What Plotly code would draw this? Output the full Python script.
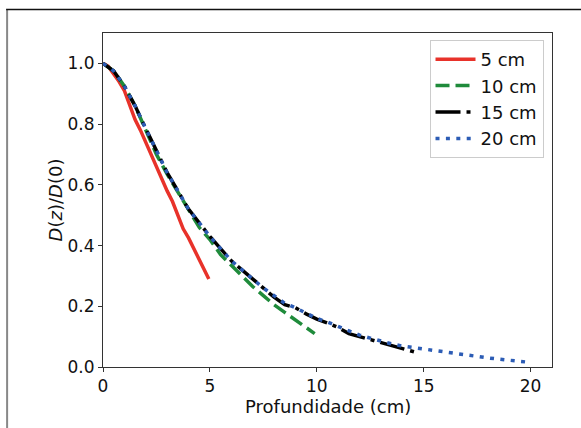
import plotly.graph_objects as go

# ---- data ----
z5 = [0, 0.25, 0.5, 0.75, 1.0, 1.25, 1.5, 1.75, 2.0, 2.25, 2.5, 2.75, 3.0, 3.25, 3.5, 3.75, 4.0, 4.25, 4.5, 4.75, 4.95]
d5 = [1.0, 0.99, 0.965, 0.94, 0.91, 0.865, 0.815, 0.78, 0.74, 0.70, 0.66, 0.615, 0.58, 0.545, 0.50, 0.455, 0.425, 0.39, 0.355, 0.32, 0.29]

z10 = [0, 0.5, 1.0, 1.5, 2.0, 2.5, 3.0, 3.5, 4.0, 4.5, 5.0, 5.5, 6.0, 6.5, 7.0, 7.5, 8.0, 8.5, 9.0, 9.5, 9.9]
d10 = [1.0, 0.975, 0.925, 0.86, 0.78, 0.70, 0.635, 0.575, 0.515, 0.46, 0.42, 0.37, 0.335, 0.30, 0.265, 0.235, 0.205, 0.18, 0.155, 0.13, 0.11]

z15 = [0, 0.5, 1.0, 1.5, 2.0, 2.5, 3.0, 3.5, 4.0, 4.5, 5.0, 5.5, 6.0, 6.5, 7.0, 7.5, 8.0, 8.5, 9.0, 9.5,
       10.0, 10.5, 11.0, 11.5, 12.0, 12.5, 13.0, 13.5, 14.0, 14.5, 14.8]
d15 = [1.0, 0.975, 0.925, 0.86, 0.785, 0.71, 0.64, 0.58, 0.52, 0.475, 0.43, 0.39, 0.35, 0.32, 0.29, 0.26, 0.23, 0.205, 0.195, 0.175,
       0.158, 0.145, 0.13, 0.11, 0.10, 0.09, 0.08, 0.07, 0.06, 0.05, 0.045]

z20 = [0, 0.5, 1.0, 1.5, 2.0, 2.5, 3.0, 3.5, 4.0, 4.5, 5.0, 5.5, 6.0, 6.5, 7.0, 7.5, 8.0, 8.5, 9.0, 9.5,
       10.0, 10.5, 11.0, 11.5, 12.0, 12.5, 13.0, 13.5, 14.0, 14.5, 15.0, 15.5, 16.0, 16.5, 17.0, 17.5, 18.0, 18.5, 19.0, 19.5, 20.0]
d20 = [1.0, 0.975, 0.925, 0.86, 0.785, 0.71, 0.64, 0.58, 0.52, 0.475, 0.43, 0.39, 0.35, 0.32, 0.29, 0.26, 0.235, 0.21, 0.195, 0.178,
       0.16, 0.148, 0.133, 0.118, 0.105, 0.095, 0.085, 0.076, 0.069, 0.064, 0.058, 0.053, 0.048, 0.043, 0.038, 0.034, 0.030, 0.026, 0.022, 0.019, 0.015]

labels = ["5 cm", "10 cm", "15 cm", "20 cm"]
x_ticks = [0, 5, 10, 15, 20]
y_ticks = [0.0, 0.2, 0.4, 0.6, 0.8, 1.0]
x_title = "Profundidade (cm)"
y_title = "<i>D</i>(<i>z</i>)/<i>D</i>(0)"

# ---- layout geometry ----
W, H = 581, 428
ML, MR, MT, MB = 103, 28.5, 33, 60.5
PW, PH = W - ML - MR, H - MT - MB

def px_x(p):
    return (p - ML) / PW

def px_y(p):
    return (H - MB - p) / PH

FONT = "DejaVu Sans"

fig = go.Figure()
styles = [
    dict(color="#e8322a", dash="solid"),
    dict(color="#1f8b3b", dash="14px,6px"),
    dict(color="#000000", dash="25px,6px,4px,6px"),
    dict(color="#2c5cb5", dash="4px,6.4px"),
]
for (zz, dd), lab, st in zip([(z5, d5), (z10, d10), (z15, d15), (z20, d20)], labels, styles):
    fig.add_trace(go.Scatter(x=zz, y=dd, mode="lines", name=lab,
                             line=dict(color=st["color"], dash=st["dash"], width=3.5)))

axis_common = dict(showgrid=False, zeroline=False, showline=True, linecolor="#333333", linewidth=1,
                   mirror=True, ticks="outside", ticklen=4, tickcolor="#333333", tickwidth=1,
                   tickfont=dict(family=FONT, size=17, color="#111111"))

fig.update_layout(
    width=W, height=H,
    margin=dict(l=ML, r=MR, t=MT, b=MB, autoexpand=False),
    paper_bgcolor="white", plot_bgcolor="white",
    font=dict(family=FONT, size=17, color="#111111"),
    xaxis=dict(range=[0, 21], tickvals=x_ticks, ticktext=[str(v) for v in x_ticks],
               **axis_common),
    yaxis=dict(range=[0, 1.1], tickvals=y_ticks, ticktext=[f"{v:.1f}" for v in y_ticks],
               title=dict(text=y_title, font=dict(family=FONT, size=18), standoff=0),
               **axis_common),
    legend=dict(x=px_x(544), xanchor="right", y=px_y(40), yanchor="top",
                bgcolor="white", bordercolor="#cccccc", borderwidth=1,
                font=dict(family=FONT, size=18), itemwidth=40, tracegroupgap=0),
    showlegend=True,
)

# x-axis title placed as annotation for exact vertical position
fig.add_annotation(text=x_title, xref="paper", yref="paper", x=0.5, y=px_y(395),
                   xanchor="center", yanchor="top", showarrow=False,
                   font=dict(family=FONT, size=18, color="#111111"))

# outer frame (left and top edges visible in the reference)
fig.add_shape(type="line", xref="paper", yref="paper",
              x0=px_x(7), x1=px_x(7), y0=px_y(9.5), y1=px_y(430),
              line=dict(color="#888888", width=2))
fig.add_shape(type="line", xref="paper", yref="paper",
              x0=px_x(6), x1=px_x(583), y0=px_y(9.5), y1=px_y(9.5),
              line=dict(color="#111111", width=1.5))

fig.write_html("out.html", config={"displayModeBar": False},
               post_script="document.body.style.margin='0';document.body.style.padding='0';")
